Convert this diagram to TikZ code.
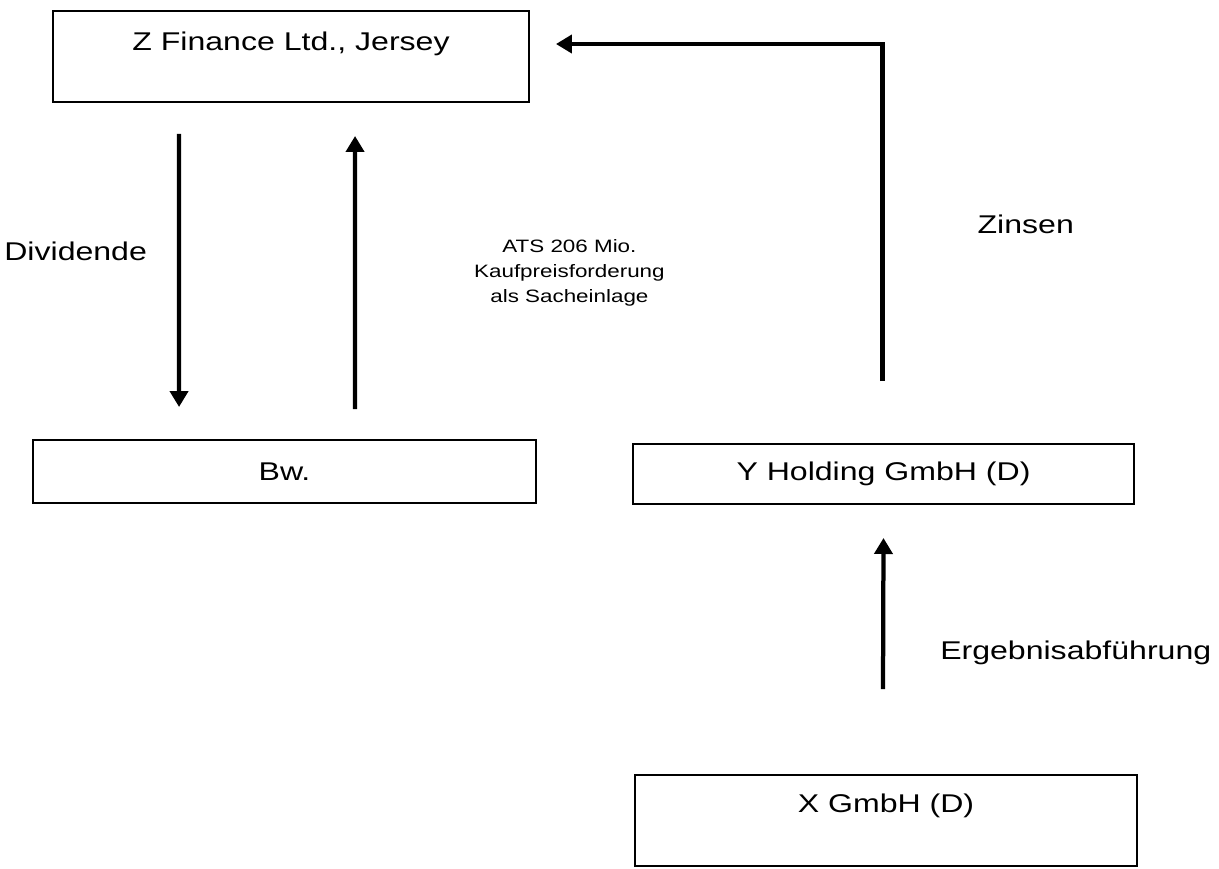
\documentclass[tikz,border=0pt]{standalone}
\usepackage{fontspec}
\setmainfont{Liberation Sans}[FakeStretch=1.25]
\usetikzlibrary{arrows.meta, positioning, calc}
\tikzset{
  every picture/.style={font=\fontsize{14.6pt}{17pt}\selectfont},
  box/.style={draw, line width=0.04cm, inner xsep=0pt, inner ysep=0pt, align=center},
  arrow/.style={-{Triangle[length=0.32cm, width=0.36cm]}, line width=0.085cm},
  note/.style={font=\fontsize{10.2pt}{14.2pt}\selectfont, align=center, inner sep=0pt},
  lbl/.style={inner sep=0pt},
}
\begin{document}
\begin{tikzpicture}[x=0.02cm, y=-0.02cm]
  \useasboundingbox (0,0) rectangle (1219,868);
  \node[box, minimum width=9.52cm, text height=0.8cm, text depth=1.02cm] (zfin) at (291,56.5) {Z Finance Ltd., Jersey};
  \node[box, minimum width=10.06cm, minimum height=1.26cm] (bw) at (284.5,471.5) {Bw.};
  \node[box, minimum width=10.02cm, minimum height=1.2cm] (yhold) at (883.5,474) {Y Holding GmbH (D)};
  \node[box, minimum width=10.04cm, text height=0.74cm, text depth=1.08cm] (xg) at (886,820.5) {X GmbH (D)};
  \draw[arrow] ($(zfin.south west)+(127,31)$) -- node[lbl, pos=0.43, left=0.6cm] {Dividende} ($(bw.north west)+(147,-32)$);
  \draw[arrow] ($(bw.north west)+(323,-30)$) -- node[note, pos=0.5, right=2.34cm] {ATS 206 Mio.\\Kaufpreisforderung\\als Sacheinlage} ($(zfin.south west)+(303,33)$);
  \draw[arrow] ($(yhold.north)+(-1,-62)$) |- node[lbl, pos=0.233, right=1.86cm] {Zinsen} ($(zfin.north east)+(26,34)$);
  \draw[arrow] ($(xg.north)+(-3,-85)$) -- node[lbl, pos=0.24, right=1.1cm] {Ergebnisabführung} ($(yhold.south)+(0,33)$);
\end{tikzpicture}
\end{document}
